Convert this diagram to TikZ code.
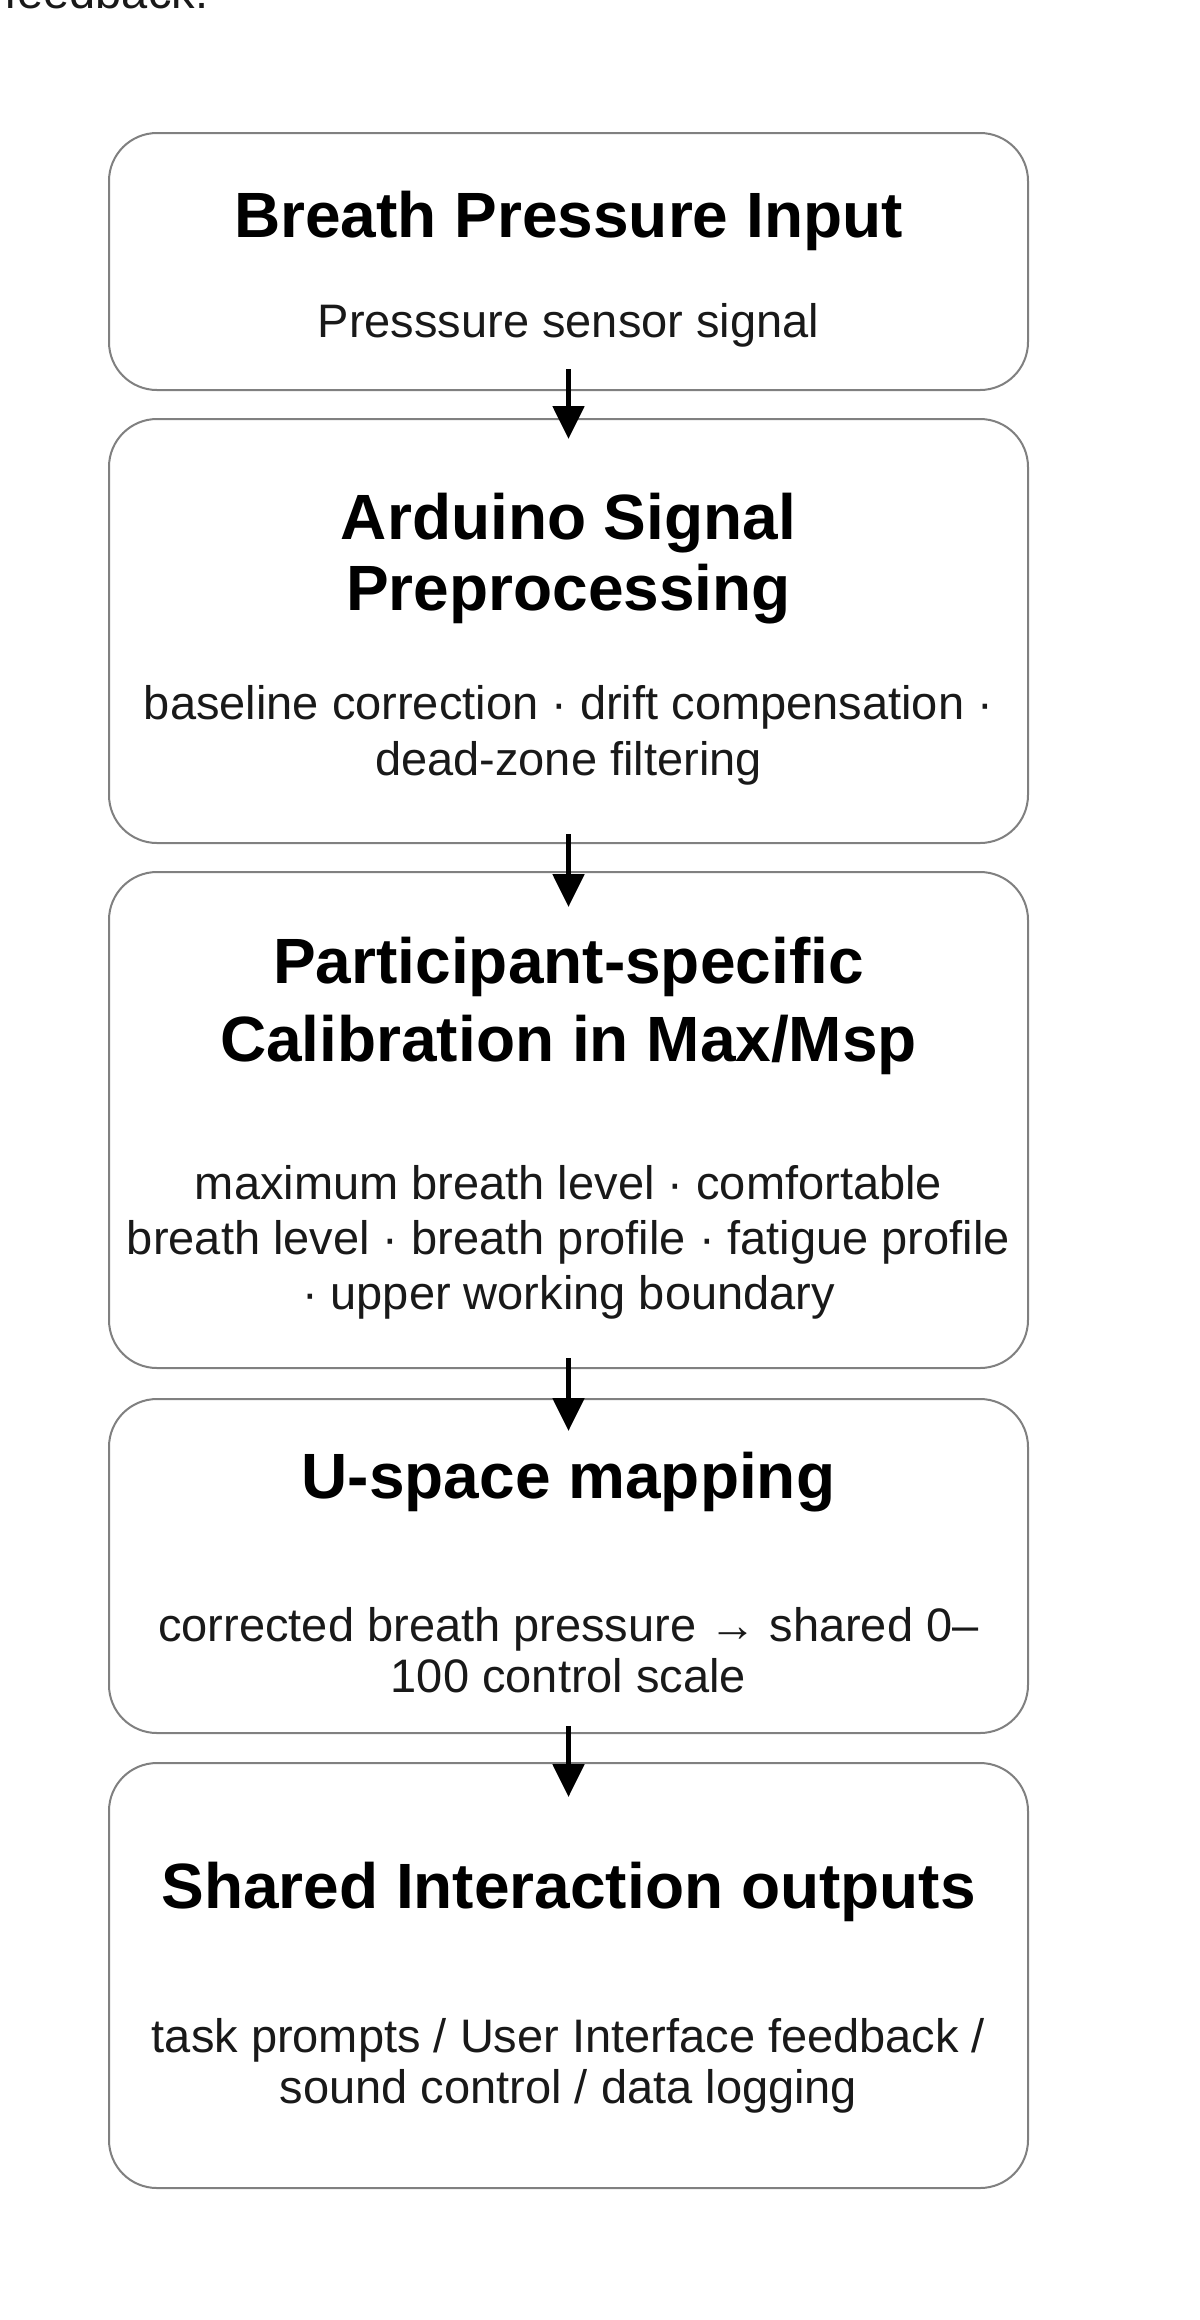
\documentclass[tikz,border=0pt]{standalone}
\usepackage{fontspec}
\setmainfont{Liberation Sans}
\usetikzlibrary{arrows.meta}
\begin{document}
\begin{tikzpicture}[x=0.5pt,y=-0.5pt,
  box/.style={draw=black!50, line width=1pt, rounded corners=24pt, minimum width=459.5pt, inner sep=0pt},
  ttl/.style={font=\bfseries\fontsize{32}{38}\selectfont, anchor=base, inner sep=0pt},
  bod/.style={font=\fontsize{23.5}{27.5}\selectfont, anchor=base, inner sep=0pt, text=black!90},
  arr/.style={line width=2.6pt, -{Triangle[length=16.5pt,width=15.5pt]}}]
\useasboundingbox (0,0) rectangle (1200,2320);
\fill[white] (0,0) rectangle (1200,2320);
\begin{scope}
  \clip (0,0) rectangle (1200,2320);
  \node[bod, anchor=base west] (fb) at (4,8) {feedback.};
\end{scope}
% boxes
\node[box, minimum height=128.5pt] (b1) at (568.5,261.5) {};
\node[box, minimum height=212pt]   (b2) at (568.5,631) {};
\node[box, minimum height=248pt]   (b3) at (568.5,1120) {};
\node[box, minimum height=167pt]   (b4) at (568.5,1566) {};
\node[box, minimum height=212.5pt] (b5) at (568.5,1975.5) {};
% box 1
\node[ttl] (t1) at (568.5,237) {Breath Pressure Input};
\node[bod] (s1) at (568.5,337) {Presssure sensor signal};
% box 2
\node[ttl] (t2a) at (568.5,539) {Arduino Signal};
\node[ttl] (t2b) at (568.5,610) {Preprocessing};
\node[bod] (s2a) at (568.5,719) {baseline correction · drift compensation ·};
\node[bod] (s2b) at (568.5,775) {dead-zone filtering};
% box 3
\node[ttl] (t3a) at (568.5,983) {Participant-specific};
\node[ttl] (t3b) at (568.5,1061) {Calibration in Max/Msp};
\node[bod] (s3a) at (568.5,1199) {maximum breath level · comfortable};
\node[bod] (s3b) at (568.5,1254) {breath level · breath profile · fatigue profile};
\node[bod] (s3c) at (568.5,1309) {· upper working boundary};
% box 4
\node[ttl] (t4) at (568.5,1498) {U-space mapping};
\node[bod] (s4a) at (568.5,1641) {corrected breath pressure → shared 0–};
\node[bod] (s4b) at (568.5,1692) {100 control scale};
% box 5
\node[ttl] (t5) at (568.5,1908) {Shared Interaction outputs};
\node[bod] (s5a) at (568.5,2052) {task prompts / User Interface feedback /};
\node[bod] (s5b) at (568.5,2103) {sound control / data logging};
% arrows
\draw[arr] ([yshift=11pt]b1.south) -- ([yshift=-10.5pt]b2.north);
\draw[arr] ([yshift=5pt]b2.south) -- ([yshift=-18pt]b3.north);
\draw[arr] ([yshift=5.5pt]b3.south) -- ([yshift=-16.5pt]b4.north);
\draw[arr] ([yshift=4pt]b4.south) -- ([yshift=-17.5pt]b5.north);
\end{tikzpicture}
\end{document}
